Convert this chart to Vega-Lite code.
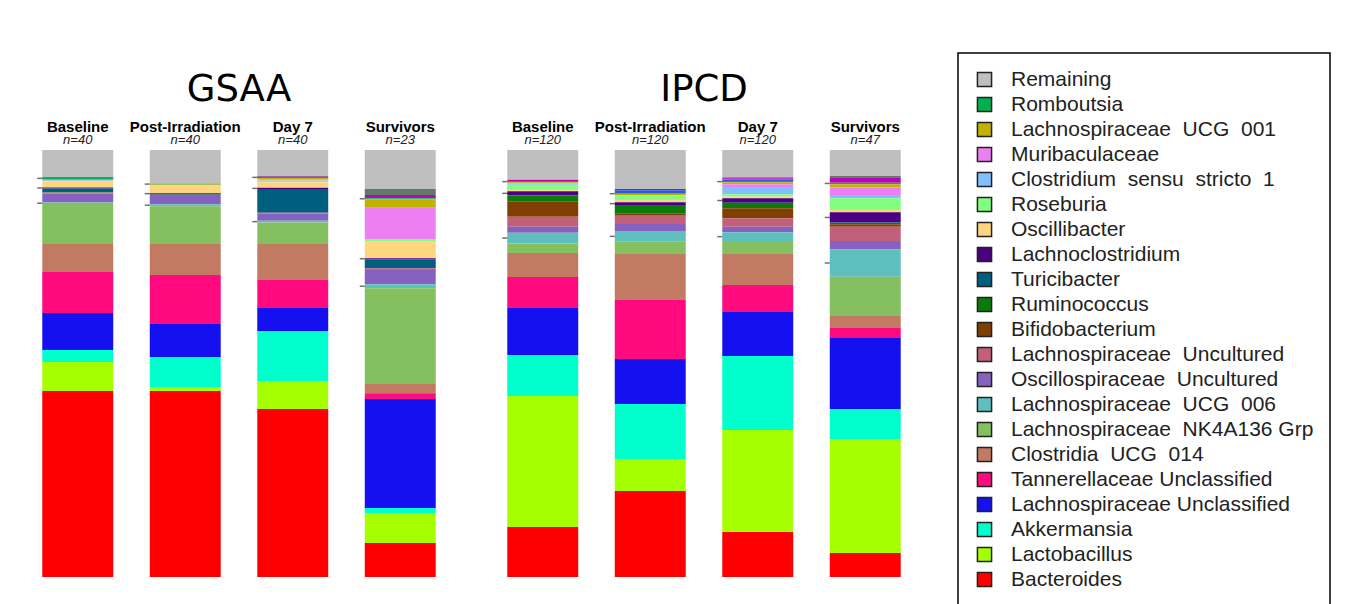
{
  "$schema": "https://vega.github.io/schema/vega-lite/v6.json",
  "background": "white",
  "padding": {"left": 24, "top": 52, "right": 0, "bottom": 0},
  "data": {"values": [
    {"study": "GSAA", "phase": "Baseline", "n": 40, "Remaining": 27, "Unlisted A": 0, "Unlisted B": 0.7, "Unlisted C": 0, "Romboutsia": 1.3, "Lachnospiraceae UCG 001": 1.3, "Muribaculaceae": 0.3, "Clostridium sensu stricto 1": 0.3, "Roseburia": 0.7, "Oscillibacter": 6, "Lachnoclostridium": 0.8, "Turicibacter": 3.8, "Ruminococcus": 0.3, "Bifidobacterium": 0.3, "Lachnospiraceae Uncultured": 0.6, "Oscillospiraceae Uncultured": 9, "Lachnospiraceae UCG 006": 1.6, "Lachnospiraceae NK4A136 Grp": 40, "Clostridia UCG 014": 28, "Tannerellaceae Unclassified": 41, "Lachnospiraceae Unclassified": 37, "Akkermansia": 12, "Lactobacillus": 29, "Bacteroides": 186},
    {"study": "GSAA", "phase": "Post-Irradiation", "n": 40, "Remaining": 33.7, "Unlisted A": 0, "Unlisted B": 0, "Unlisted C": 0, "Romboutsia": 0.8, "Lachnospiraceae UCG 001": 0.6, "Muribaculaceae": 0, "Clostridium sensu stricto 1": 0, "Roseburia": 0.6, "Oscillibacter": 7.6, "Lachnoclostridium": 0.7, "Turicibacter": 0.8, "Ruminococcus": 0, "Bifidobacterium": 0, "Lachnospiraceae Uncultured": 0.3, "Oscillospiraceae Uncultured": 9.1, "Lachnospiraceae UCG 006": 2, "Lachnospiraceae NK4A136 Grp": 37.8, "Clostridia UCG 014": 31, "Tannerellaceae Unclassified": 49, "Lachnospiraceae Unclassified": 33, "Akkermansia": 30, "Lactobacillus": 4, "Bacteroides": 186},
    {"study": "GSAA", "phase": "Day 7", "n": 40, "Remaining": 26, "Unlisted A": 0, "Unlisted B": 0.8, "Unlisted C": 0, "Romboutsia": 1.2, "Lachnospiraceae UCG 001": 1.4, "Muribaculaceae": 1, "Clostridium sensu stricto 1": 0.4, "Roseburia": 1.4, "Oscillibacter": 5.6, "Lachnoclostridium": 1.2, "Turicibacter": 23.7, "Ruminococcus": 0, "Bifidobacterium": 0, "Lachnospiraceae Uncultured": 0.7, "Oscillospiraceae Uncultured": 7.4, "Lachnospiraceae UCG 006": 1.7, "Lachnospiraceae NK4A136 Grp": 21.5, "Clostridia UCG 014": 36, "Tannerellaceae Unclassified": 28, "Lachnospiraceae Unclassified": 23, "Akkermansia": 50, "Lactobacillus": 28, "Bacteroides": 168},
    {"study": "GSAA", "phase": "Survivors", "n": 23, "Remaining": 39, "Unlisted A": 6, "Unlisted B": 3.3, "Unlisted C": 0, "Romboutsia": 1, "Lachnospiraceae UCG 001": 8.4, "Muribaculaceae": 31.3, "Clostridium sensu stricto 1": 0, "Roseburia": 2, "Oscillibacter": 17.3, "Lachnoclostridium": 1, "Turicibacter": 9, "Ruminococcus": 0, "Bifidobacterium": 0, "Lachnospiraceae Uncultured": 1.7, "Oscillospiraceae Uncultured": 14.3, "Lachnospiraceae UCG 006": 4, "Lachnospiraceae NK4A136 Grp": 95, "Clostridia UCG 014": 10, "Tannerellaceae Unclassified": 6, "Lachnospiraceae Unclassified": 109, "Akkermansia": 5, "Lactobacillus": 30, "Bacteroides": 34},
    {"study": "IPCD", "phase": "Baseline", "n": 120, "Remaining": 29.7, "Unlisted A": 0, "Unlisted B": 1.3, "Unlisted C": 0, "Romboutsia": 1.3, "Lachnospiraceae UCG 001": 1, "Muribaculaceae": 0.5, "Clostridium sensu stricto 1": 1, "Roseburia": 5.5, "Oscillibacter": 0.9, "Lachnoclostridium": 4.3, "Turicibacter": 0.3, "Ruminococcus": 5.9, "Bifidobacterium": 15, "Lachnospiraceae Uncultured": 10, "Oscillospiraceae Uncultured": 6, "Lachnospiraceae UCG 006": 10.7, "Lachnospiraceae NK4A136 Grp": 9.6, "Clostridia UCG 014": 24, "Tannerellaceae Unclassified": 31, "Lachnospiraceae Unclassified": 47, "Akkermansia": 41, "Lactobacillus": 131, "Bacteroides": 50},
    {"study": "IPCD", "phase": "Post-Irradiation", "n": 120, "Remaining": 39, "Unlisted A": 0, "Unlisted B": 1.3, "Unlisted C": 3, "Romboutsia": 0.8, "Lachnospiraceae UCG 001": 1, "Muribaculaceae": 0, "Clostridium sensu stricto 1": 0, "Roseburia": 5, "Oscillibacter": 2.2, "Lachnoclostridium": 2.7, "Turicibacter": 0, "Ruminococcus": 8.3, "Bifidobacterium": 2.4, "Lachnospiraceae Uncultured": 8.3, "Oscillospiraceae Uncultured": 7, "Lachnospiraceae UCG 006": 10.7, "Lachnospiraceae NK4A136 Grp": 12.3, "Clostridia UCG 014": 46, "Tannerellaceae Unclassified": 59, "Lachnospiraceae Unclassified": 45, "Akkermansia": 55, "Lactobacillus": 32, "Bacteroides": 86},
    {"study": "IPCD", "phase": "Day 7", "n": 120, "Remaining": 27.3, "Unlisted A": 1, "Unlisted B": 1.3, "Unlisted C": 1.4, "Romboutsia": 1.3, "Lachnospiraceae UCG 001": 2, "Muribaculaceae": 2.7, "Clostridium sensu stricto 1": 7.3, "Roseburia": 2.3, "Oscillibacter": 1.7, "Lachnoclostridium": 4.4, "Turicibacter": 0, "Ruminococcus": 5.6, "Bifidobacterium": 10, "Lachnospiraceae Uncultured": 8.4, "Oscillospiraceae Uncultured": 5.6, "Lachnospiraceae UCG 006": 8.7, "Lachnospiraceae NK4A136 Grp": 13, "Clostridia UCG 014": 31, "Tannerellaceae Unclassified": 27, "Lachnospiraceae Unclassified": 44, "Akkermansia": 74, "Lactobacillus": 102, "Bacteroides": 45},
    {"study": "IPCD", "phase": "Survivors", "n": 47, "Remaining": 26, "Unlisted A": 1.3, "Unlisted B": 5.4, "Unlisted C": 0, "Romboutsia": 1.5, "Lachnospiraceae UCG 001": 3.3, "Muribaculaceae": 7.5, "Clostridium sensu stricto 1": 3.3, "Roseburia": 11.7, "Oscillibacter": 2.3, "Lachnoclostridium": 10.3, "Turicibacter": 0.4, "Ruminococcus": 1.3, "Bifidobacterium": 2.4, "Lachnospiraceae Uncultured": 14.3, "Oscillospiraceae Uncultured": 8.3, "Lachnospiraceae UCG 006": 27.4, "Lachnospiraceae NK4A136 Grp": 39.3, "Clostridia UCG 014": 12, "Tannerellaceae Unclassified": 10, "Lachnospiraceae Unclassified": 71, "Akkermansia": 30, "Lactobacillus": 114, "Bacteroides": 24}
  ]},
  "transform": [
    {"fold": ["Remaining", "Unlisted A", "Unlisted B", "Unlisted C", "Romboutsia", "Lachnospiraceae UCG 001", "Muribaculaceae", "Clostridium sensu stricto 1", "Roseburia", "Oscillibacter", "Lachnoclostridium", "Turicibacter", "Ruminococcus", "Bifidobacterium", "Lachnospiraceae Uncultured", "Oscillospiraceae Uncultured", "Lachnospiraceae UCG 006", "Lachnospiraceae NK4A136 Grp", "Clostridia UCG 014", "Tannerellaceae Unclassified", "Lachnospiraceae Unclassified", "Akkermansia", "Lactobacillus", "Bacteroides"], "as": ["taxon", "value"]},
    {"calculate": "indexof(['Bacteroides','Lactobacillus','Akkermansia','Lachnospiraceae Unclassified','Tannerellaceae Unclassified','Clostridia UCG 014','Lachnospiraceae NK4A136 Grp','Lachnospiraceae UCG 006','Oscillospiraceae Uncultured','Lachnospiraceae Uncultured','Bifidobacterium','Ruminococcus','Turicibacter','Lachnoclostridium','Oscillibacter','Roseburia','Clostridium sensu stricto 1','Muribaculaceae','Lachnospiraceae UCG 001','Romboutsia','Unlisted C','Unlisted B','Unlisted A','Remaining'], datum.taxon)", "as": "rank"},
    {"stack": "value", "groupby": ["study", "phase"], "sort": [{"field": "rank", "order": "ascending"}], "offset": "normalize", "as": ["y0", "y1"]}
  ],
  "facet": {"column": {"field": "study", "type": "nominal", "sort": ["GSAA", "IPCD"], "title": null,
    "header": {"labelFontSize": 37, "labelFont": "DejaVu Sans", "labelColor": "black", "labelPadding": 10, "labelExpr": "'\u2003' + datum.label"}}},
  "spacing": 35,
  "spec": {
    "width": 430,
    "height": 427,
    "encoding": {
      "x": {"field": "phase", "type": "nominal", "sort": ["Baseline", "Post-Irradiation", "Day 7", "Survivors"],
        "scale": {"paddingInner": 0.34, "paddingOuter": 0.17},
        "axis": {"orient": "top", "title": null, "domain": false, "ticks": false, "labelAngle": 0, "labelFont": "Liberation Sans", "labelFontWeight": "bold", "labelFontSize": 15, "labelColor": "black", "labelPadding": 0}}
    },
    "layer": [
      {"mark": {"type": "bar"},
       "encoding": {
         "y": {"field": "y0", "type": "quantitative", "stack": null, "scale": {"domain": [0, 1], "nice": false}, "axis": null},
         "y2": {"field": "y1"},
         "color": {"field": "taxon", "type": "nominal",
           "scale": {
             "domain": ["Remaining", "Unlisted A", "Unlisted B", "Unlisted C", "Romboutsia", "Lachnospiraceae UCG 001", "Muribaculaceae", "Clostridium sensu stricto 1", "Roseburia", "Oscillibacter", "Lachnoclostridium", "Turicibacter", "Ruminococcus", "Bifidobacterium", "Lachnospiraceae Uncultured", "Oscillospiraceae Uncultured", "Lachnospiraceae UCG 006", "Lachnospiraceae NK4A136 Grp", "Clostridia UCG 014", "Tannerellaceae Unclassified", "Lachnospiraceae Unclassified", "Akkermansia", "Lactobacillus", "Bacteroides"],
             "range": ["#bfbfbf", "#5f7a66", "#c000c0", "#2a5ae0", "#00b04f", "#c2b200", "#ec80f2", "#80c0ff", "#80ff80", "#ffd580", "#4b0082", "#005f7f", "#0a7a0a", "#7f3f00", "#c2607a", "#8562c0", "#5fbfbf", "#84c060", "#c27a62", "#ff0a7f", "#1410f0", "#00ffcc", "#a6ff00", "#ff0000"]
           },
           "legend": {"title": null,
             "values": ["Remaining", "Romboutsia", "Lachnospiraceae UCG 001", "Muribaculaceae", "Clostridium sensu stricto 1", "Roseburia", "Oscillibacter", "Lachnoclostridium", "Turicibacter", "Ruminococcus", "Bifidobacterium", "Lachnospiraceae Uncultured", "Oscillospiraceae Uncultured", "Lachnospiraceae UCG 006", "Lachnospiraceae NK4A136 Grp", "Clostridia UCG 014", "Tannerellaceae Unclassified", "Lachnospiraceae Unclassified", "Akkermansia", "Lactobacillus", "Bacteroides"],
             "labelExpr": "datum.label === 'Tannerellaceae Unclassified' || datum.label === 'Lachnospiraceae Unclassified' ? datum.label : datum.label === 'Lachnospiraceae NK4A136 Grp' ? 'Lachnospiraceae\u00a0 NK4A136 Grp\u2003' : replace(datum.label, / /g, '\u00a0 ')"
           }
         }
       }},
      {"transform": [
         {"filter": {"field": "taxon", "oneOf": ["Romboutsia", "Lachnoclostridium", "Lachnospiraceae UCG 006"]}},
         {"calculate": "(datum.y0 + datum.y1) / 2", "as": "ymid"}
       ],
       "mark": {"type": "tick", "orient": "horizontal", "size": 5, "thickness": 1.5, "xOffset": -38, "color": "#333333"},
       "encoding": {"y": {"field": "ymid", "type": "quantitative"}}},
      {"transform": [
         {"filter": "datum.taxon === 'Remaining'"},
         {"calculate": "'n=' + datum.n", "as": "nlabel"}
       ],
       "mark": {"type": "text", "fontStyle": "italic", "fontSize": 13, "font": "Liberation Sans", "dy": -10, "baseline": "middle", "color": "#222222"},
       "encoding": {"y": {"datum": 1, "type": "quantitative"}, "text": {"field": "nlabel"}}}
    ]
  },
  "config": {
    "view": {"stroke": null},
    "legend": {
      "orient": "none",
      "legendX": 934,
      "legendY": -97,
      "padding": 16,
      "strokeColor": "black",
      "strokeWidth": 1.5,
      "symbolType": "square",
      "symbolSize": 200,
      "symbolStrokeColor": "#222222",
      "symbolStrokeWidth": 1.5,
      "symbolOpacity": 1,
      "labelFont": "Liberation Sans",
      "labelFontSize": 21,
      "labelColor": "#222222",
      "labelOffset": 16,
      "labelLimit": 400,
      "rowPadding": 3
    }
  }
}
